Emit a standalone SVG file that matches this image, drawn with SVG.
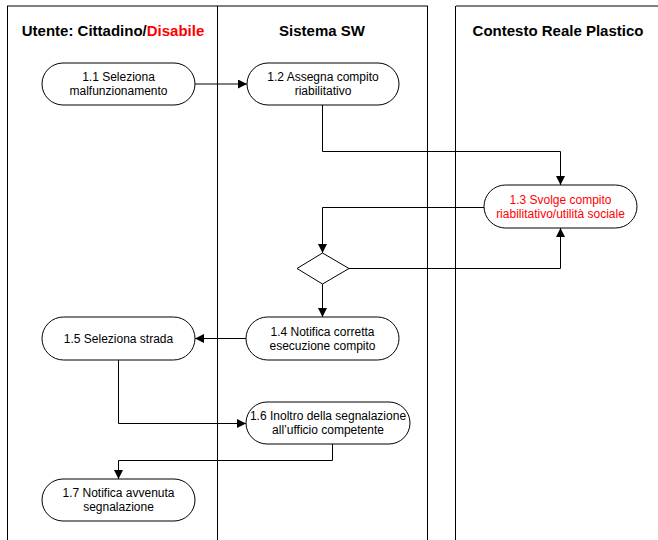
<svg xmlns="http://www.w3.org/2000/svg" width="658" height="540" viewBox="0 0 658 540">
<style>
.lane{stroke:#000;stroke-width:1;fill:none}
.top{stroke:#808080;stroke-width:2;fill:none}
.hdr{font-family:"Liberation Sans",Arial,sans-serif;font-size:15px;font-weight:bold;fill:#000;text-anchor:middle}
.node rect,.node polygon{fill:#fff;stroke:#000;stroke-width:1}
.node text{font-family:"Liberation Sans",Arial,sans-serif;font-size:12px;fill:#000;text-anchor:middle}
.node text.red{fill:#ff0000}
.conn path{fill:none;stroke:#000;stroke-width:1;marker-end:url(#arr)}
</style>
<defs>
<marker id="arr" markerUnits="userSpaceOnUse" markerWidth="9" markerHeight="9" viewBox="0 0 9 9" refX="9" refY="4.5" orient="auto">
<path d="M0,0 L9,4.5 L0,9 Z" fill="#000"/>
</marker>
</defs>
<rect width="658" height="540" fill="#fff"/>
<g id="lanes">
<path class="top" d="M7,6 H428 M456,6 H658"/>
<path class="lane" d="M7.5,6 V540 M217.5,6 V540 M427.5,6 V540 M455.5,6 V540"/>
<text class="hdr" x="113" y="36">Utente: Cittadino/<tspan fill="#ff0000">Disabile</tspan></text>
<text class="hdr" x="322" y="36">Sistema SW</text>
<text class="hdr" x="558" y="36">Contesto Reale Plastico</text>
</g>
<g id="connectors" class="conn">
<path d="M195,84 H247"/>
<path d="M322.5,105 V151.5 H560.5 V185"/>
<path d="M484,207.5 H322.5 V253"/>
<path d="M349,268.5 H560.5 V228"/>
<path d="M322.5,284 V317"/>
<path d="M246,338.5 H195"/>
<path d="M118.5,360 V423.5 H246"/>
<path d="M332.5,444 V460.5 H118.5 V479"/>
</g>
<g id="n11" class="node">
<rect x="42" y="63" width="153" height="42" rx="21"/>
<text x="118.5" y="81.3">1.1 Seleziona</text>
<text x="118.5" y="95.3">malfunzionamento</text>
</g>
<g id="n12" class="node">
<rect x="247" y="63" width="152" height="42" rx="21"/>
<text x="323" y="81.3">1.2 Assegna compito</text>
<text x="323" y="95.3">riabilitativo</text>
</g>
<g id="n13" class="node">
<rect x="484" y="185" width="153" height="43" rx="21.5"/>
<text class="red" x="560.5" y="203.8">1.3 Svolge compito</text>
<text class="red" x="560.5" y="217.8">riabilitativo/utilità sociale</text>
</g>
<g id="decision" class="node">
<polygon points="322.5,253 349,268.5 322.5,284 297,268.5"/>
</g>
<g id="n14" class="node">
<rect x="246" y="317" width="153" height="43" rx="21.5"/>
<text x="322.5" y="335.8">1.4 Notifica corretta</text>
<text x="322.5" y="349.8">esecuzione compito</text>
</g>
<g id="n15" class="node">
<rect x="42" y="317" width="153" height="43" rx="21.5"/>
<text x="118.5" y="342.8">1.5 Seleziona strada</text>
</g>
<g id="n16" class="node">
<rect x="246" y="402" width="164" height="42" rx="21"/>
<text x="328" y="420.3">1.6 Inoltro della segnalazione</text>
<text x="328" y="434.3">all’ufficio competente</text>
</g>
<g id="n17" class="node">
<rect x="42" y="479" width="153" height="42" rx="21"/>
<text x="118.5" y="497.3">1.7 Notifica avvenuta</text>
<text x="118.5" y="511.3">segnalazione</text>
</g>
</svg>
